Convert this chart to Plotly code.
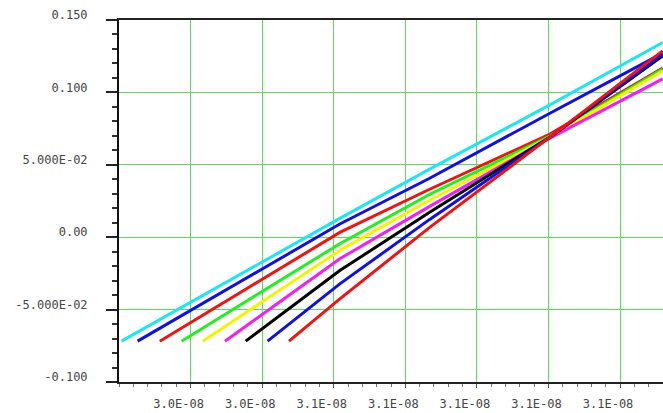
import plotly.graph_objects as go

# x values in units of 1e-8 (converted below)
x_start = [3.0007, 3.0052, 3.0114, 3.0175, 3.0234, 3.0296, 3.0354, 3.0415, 3.0475]
x_checkpoints = [3.0617, 3.0868, 3.1204, 3.1519]

y_start = -0.0718
curve_cyan = [0.0130, 0.0470, 0.0914, 0.1344]
curve_blue = [0.0091, 0.0407, 0.0856, 0.1271]
curve_red = [0.0033, 0.0331, 0.0712, 0.1169]
curve_green = [-0.0045, 0.0296, 0.0698, 0.1162]
curve_yellow = [-0.0091, 0.0255, 0.0691, 0.1148]
curve_magenta = [-0.0149, 0.0213, 0.0684, 0.1093]
curve_black = [-0.0230, 0.0172, 0.0691, 0.1252]
curve_blue2 = [-0.0322, 0.0123, 0.0691, 0.1262]
curve_red2 = [-0.0426, 0.0068, 0.0691, 0.1287]

curves = [curve_cyan, curve_blue, curve_red, curve_green, curve_yellow,
          curve_magenta, curve_black, curve_blue2, curve_red2]
colors = ["#20e4f0", "#1010e0", "#ee1414", "#22ee22", "#f4f400",
          "#f020f0", "#000000", "#1010e0", "#ee1414"]

tick_vals = [3.02, 3.04, 3.06, 3.08, 3.10, 3.12, 3.14]
tick_text = ["3.0E-08", "3.0E-08", "3.1E-08", "3.1E-08", "3.1E-08", "3.1E-08", "3.1E-08"]
y_tick_vals = [-0.10, -0.05, 0.0, 0.05, 0.10, 0.15]
y_tick_text = ["-0.100", "-5.000E-02", "0.00", "5.000E-02", "0.100", "0.150"]

SCALE = 1e-8
fig = go.Figure()
for xs, ys, col in zip(x_start, curves, colors):
    fig.add_trace(go.Scatter(
        x=[v * SCALE for v in [xs] + x_checkpoints],
        y=[y_start] + ys,
        mode="lines",
        line=dict(color=col, width=3),
        showlegend=False,
    ))

font = dict(family="DejaVu Sans Mono", size=12, color="#444444")
grid = "#5fdc5f"

fig.update_layout(
    width=663, height=413,
    margin=dict(l=119, r=0, t=20, b=31, autoexpand=False),
    paper_bgcolor="white", plot_bgcolor="white",
    xaxis=dict(
        range=[3.0 * SCALE, 3.152 * SCALE],
        tickvals=[v * SCALE for v in tick_vals], ticktext=tick_text,
        showgrid=True, gridcolor=grid, gridwidth=1,
        zeroline=False, showline=True, linecolor="#222222", linewidth=2,
        mirror=True, ticks="outside", ticklen=4, tickcolor="#555555",
        minor=dict(dtick=0.004 * SCALE, tick0=3.0 * SCALE, ticks="outside", ticklen=3, tickcolor="#777777", showgrid=False),
        tickfont=font, ticklabelshift=-12, ticklabelstandoff=6,
        automargin=False,
    ),
    yaxis=dict(
        range=[-0.1, 0.15],
        tickvals=y_tick_vals, ticktext=y_tick_text,
        showgrid=True, gridcolor=grid, gridwidth=1,
        zeroline=False, showline=True, linecolor="#111111", linewidth=2,
        ticks="outside", ticklen=11, tickcolor="#222222", tickwidth=1.5,
        minor=dict(dtick=0.01, tick0=0, ticks="outside", ticklen=5, tickcolor="#333333", showgrid=False),
        tickfont=font, ticklabelshift=-5, ticklabelstandoff=16,
        automargin=False,
    ),
)

fig.write_html("out.html")
